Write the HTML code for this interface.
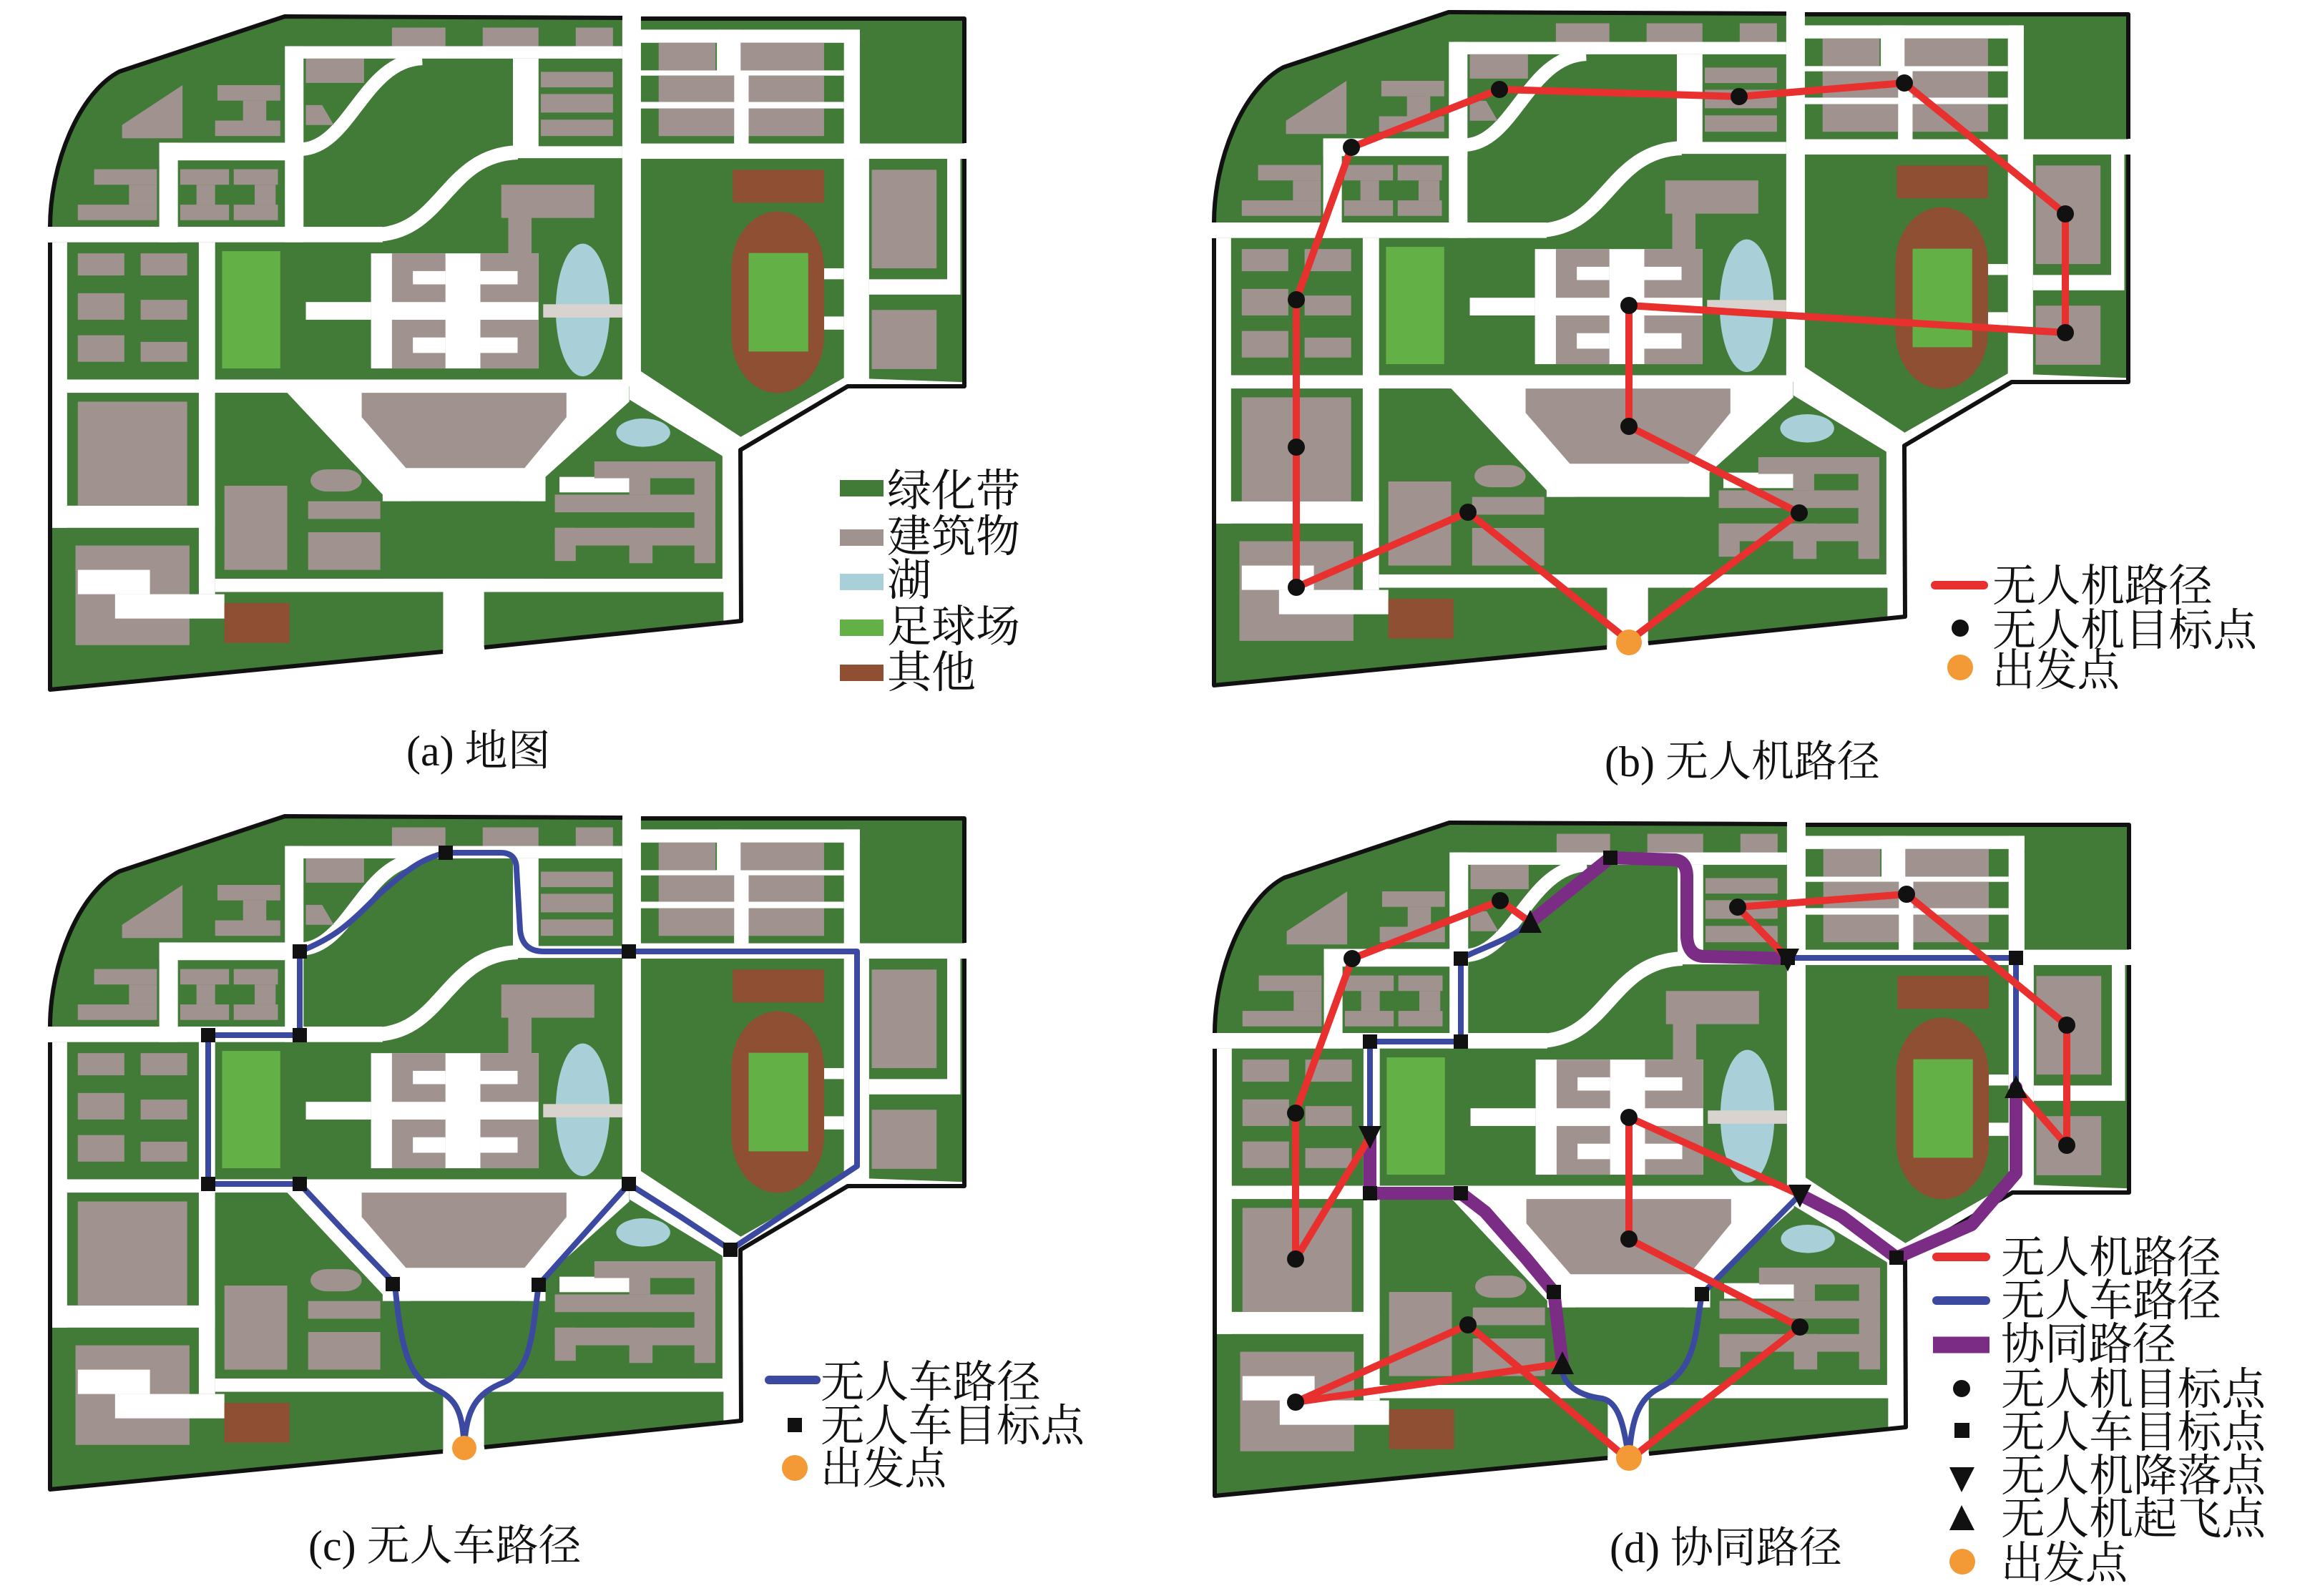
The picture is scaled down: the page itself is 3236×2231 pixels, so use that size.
<!DOCTYPE html>
<html><head><meta charset="utf-8"><style>
html,body{margin:0;padding:0;background:#fff;}
svg{display:block;}
text{font-family:"Liberation Serif","Noto Serif CJK SC",serif;fill:#111;}
</style></head><body>
<svg xmlns="http://www.w3.org/2000/svg" width="3236" height="2231" viewBox="0 0 3236 2231">
<defs>
<g id="map">
  <path d="M70,317 C70,230 110,130 167,100 L398,23 L1348,26 L1348,540 L1185,540 L1035,629 L1036,868 L677,905 L619,911 L70,964 Z" fill="#427a38"/>
  <!-- Z1 roads -->
  <g transform="translate(60,20) scale(0.6505,0.6188)" fill="#fff">
    <rect x="530" y="72" width="715" height="28"/>
    <rect x="520" y="72" width="40" height="443"/>
    <rect x="250" y="290" width="310" height="40"/>
    <rect x="250" y="290" width="40" height="225"/>
    <rect x="-10" y="480" width="740" height="35"/>
    <rect x="1245" y="-10" width="40" height="850"/>
    <rect x="0" y="825" width="1250" height="30"/>
    <rect x="15" y="515" width="37" height="645"/>
    <rect x="335" y="515" width="35" height="795"/>
    <rect x="15" y="1110" width="355" height="50"/>
    <rect x="370" y="1275" width="1130" height="30"/>
    <rect x="860" y="1275" width="88" height="290"/>
    <rect x="565" y="650" width="140" height="40"/>
    <rect x="705" y="540" width="360" height="260"/>
    <rect x="1010" y="100" width="55" height="200"/>
    <rect x="1000" y="298" width="245" height="27"/>
    <rect x="520" y="830" width="740" height="270"/>
    <rect x="1460" y="990" width="40" height="315"/>
    <path d="M555,305 C660,300 690,105 815,100" stroke="#fff" stroke-width="30" fill="none"/>
    <path d="M700,498 C860,505 860,318 1020,312" stroke="#fff" stroke-width="32" fill="none"/>
  </g>
  <!-- Z2 roads -->
  <g transform="translate(880,20) scale(0.370,0.6122)" fill="#fff">
    <rect x="35" y="35" width="835" height="30"/>
    <rect x="810" y="35" width="60" height="265"/>
    <rect x="0" y="295" width="1265" height="35"/>
    <rect x="330" y="35" width="90" height="100"/>
    <rect x="395" y="130" width="55" height="170"/>
    <rect x="35" y="128" width="775" height="12"/>
    <rect x="35" y="200" width="775" height="15"/>
    <rect x="735" y="580" width="75" height="25"/>
    <rect x="735" y="690" width="75" height="30"/>
    <rect x="810" y="330" width="95" height="520"/>
    <rect x="1200" y="330" width="50" height="310"/>
    <rect x="905" y="605" width="295" height="35"/>
    <polygon points="0,790 30,810 420,965 810,830 1265,840 1265,852 825,852 420,995 420,1400 355,1400 355,1010 0,880"/>
  </g>
  <!-- Z1 blocks and buildings -->
  <g transform="translate(60,20) scale(0.6505,0.6188)">
    <g fill="#427a38">
      <polygon points="370,855 525,855 730,1085 730,1275 370,1275"/>
      <rect x="790" y="1100" width="235" height="155"/>
      <polygon points="1080,1045 1260,875 1460,1000 1460,1275 1080,1275"/>
    </g>
    <rect x="1110" y="1045" width="150" height="35" fill="#fff"/>
    <g fill="#a0928f">
      <rect x="750" y="30" width="115" height="42"/><rect x="945" y="30" width="120" height="42"/><rect x="1145" y="30" width="80" height="42"/>
      <rect x="1070" y="130" width="155" height="35"/><rect x="1070" y="180" width="155" height="42"/><rect x="1070" y="238" width="155" height="37"/>
      <rect x="565" y="100" width="125" height="55"/>
      <polygon points="565,205 600,205 625,250 565,250"/>
      <polygon points="170,250 300,160 300,280 170,280"/>
      <rect x="375" y="160" width="135" height="35"/><rect x="430" y="195" width="50" height="45"/><rect x="370" y="240" width="140" height="35"/>
      <rect x="110" y="350" width="135" height="35"/><rect x="185" y="385" width="60" height="45"/><rect x="75" y="430" width="170" height="35"/>
      <rect x="295" y="350" width="105" height="35"/><rect x="330" y="385" width="40" height="45"/><rect x="295" y="430" width="105" height="35"/>
      <rect x="410" y="350" width="95" height="35"/><rect x="455" y="385" width="45" height="45"/><rect x="410" y="430" width="95" height="35"/>
      <rect x="75" y="540" width="100" height="50"/><rect x="210" y="540" width="100" height="50"/>
      <rect x="75" y="630" width="100" height="60"/><rect x="210" y="645" width="100" height="45"/>
      <rect x="75" y="725" width="100" height="60"/><rect x="210" y="740" width="100" height="45"/>
      <rect x="750" y="540" width="115" height="110"/><rect x="750" y="690" width="115" height="110"/>
      <rect x="940" y="540" width="125" height="110"/><rect x="940" y="690" width="125" height="110"/>
      <rect x="1000" y="455" width="50" height="90"/><rect x="985" y="385" width="200" height="75"/>
      <polygon points="685,855 1125,855 1125,910 1035,1025 780,1025 685,910"/>
      <rect x="75" y="875" width="235" height="235"/>
      <rect x="390" y="1065" width="135" height="190"/>
      <rect x="575" y="1028" width="110" height="50" rx="35"/>
      <rect x="570" y="1100" width="155" height="40"/><rect x="570" y="1170" width="155" height="85"/>
      <rect x="70" y="1200" width="245" height="225"/>
      <rect x="1185" y="1010" width="260" height="38"/><rect x="1400" y="1010" width="45" height="230"/>
      <rect x="1260" y="1045" width="45" height="40"/>
      <rect x="1100" y="1085" width="345" height="40"/><rect x="1100" y="1160" width="345" height="40"/>
      <rect x="1100" y="1160" width="45" height="75"/><rect x="1260" y="1160" width="50" height="80"/>
    </g>
    <g fill="#fff">
      <rect x="795" y="580" width="70" height="30"/><rect x="795" y="730" width="70" height="35"/>
      <rect x="940" y="580" width="80" height="30"/><rect x="940" y="730" width="80" height="35"/>
      <rect x="75" y="1255" width="155" height="55"/><rect x="155" y="1310" width="235" height="55"/>
    </g>
    <rect x="385" y="535" width="125" height="265" fill="#62b046"/>
    <ellipse cx="1160" cy="668" rx="58" ry="150" fill="#a9cfd8"/>
    <rect x="1075" y="655" width="170" height="30" fill="#d9d3d0"/>
    <ellipse cx="1290" cy="945" rx="58" ry="32" fill="#a9cfd8"/>
    <rect x="390" y="1330" width="140" height="90" fill="#8e4f33"/>
  </g>
  <!-- Z2 buildings -->
  <g transform="translate(880,20) scale(0.370,0.6122)">
    <g fill="#a0928f">
      <rect x="110" y="65" width="215" height="63"/><rect x="420" y="65" width="315" height="63"/>
      <rect x="110" y="140" width="285" height="60"/><rect x="450" y="140" width="285" height="60"/>
      <rect x="110" y="215" width="285" height="63"/><rect x="450" y="215" width="285" height="63"/>
      <rect x="915" y="355" width="245" height="225"/><rect x="915" y="675" width="245" height="135"/>
    </g>
    <rect x="390" y="355" width="345" height="75" fill="#8e4f33"/>
    <rect x="385" y="450" width="350" height="415" rx="175" ry="130" fill="#8e4f33"/>
    <rect x="450" y="545" width="225" height="225" fill="#62b046"/>
  </g>
  <g fill="none" stroke="#111" stroke-width="6" stroke-linejoin="round">
    <path d="M70,317 C70,230 110,130 167,100 L398,23 L870,25"/>
    <path d="M896,26 L1348,26 L1348,200"/>
    <path d="M1348,222 L1348,540 L1185,540 L1035,629 L1036,868 L677,905"/>
    <path d="M619,911 L70,964 L70,339"/>
  </g>
</g>
</defs>

<use href="#map"/>
<use href="#map" transform="translate(1627,-6)"/>
<use href="#map" transform="translate(0,1118)"/>
<use href="#map" transform="translate(1628,1127)"/>

<!-- Legend a -->
<rect x="1174" y="671" width="61" height="23" fill="#427a38"/>
<rect x="1174" y="740" width="61" height="23" fill="#a0928f"/>
<rect x="1174" y="802" width="61" height="23" fill="#a9cfd8"/>
<rect x="1174" y="866" width="61" height="23" fill="#62b046"/>
<rect x="1174" y="929" width="61" height="23" fill="#8e4f33"/>
<g font-size="62">
<text x="1240" y="707">绿化带</text>
<text x="1240" y="771">建筑物</text>
<text x="1240" y="832">湖</text>
<text x="1240" y="897">足球场</text>
<text x="1240" y="961">其他</text>
</g>

<!-- Panel b route -->
<polyline points="2277,896 2052,716 1812,821 1812,625 1812,419 1889,206 2096,125 2431,135 2662,116 2887,299 2887,465 2277,427 2277,596 2515,717 2277,896" fill="none" stroke="#e8312f" stroke-width="10" stroke-linejoin="round"/>
<g fill="#111">
<circle cx="2052" cy="716" r="12"/><circle cx="1812" cy="821" r="12"/><circle cx="1812" cy="625" r="12"/><circle cx="1812" cy="419" r="12"/><circle cx="1889" cy="206" r="12"/><circle cx="2096" cy="125" r="12"/><circle cx="2431" cy="135" r="12"/><circle cx="2662" cy="116" r="12"/><circle cx="2887" cy="299" r="12"/><circle cx="2887" cy="465" r="12"/><circle cx="2277" cy="427" r="12"/><circle cx="2277" cy="596" r="12"/><circle cx="2515" cy="717" r="12"/>
</g>
<circle cx="2277" cy="898" r="18" fill="#f39a36"/>
<line x1="2705" y1="818" x2="2773" y2="818" stroke="#e8312f" stroke-width="12" stroke-linecap="round"/>
<circle cx="2740" cy="878" r="12" fill="#111"/>
<circle cx="2740" cy="933" r="18" fill="#f39a36"/>
<g font-size="62">
<text x="2785" y="840" textLength="308" lengthAdjust="spacingAndGlyphs">无人机路径</text>
<text x="2785" y="902" textLength="370" lengthAdjust="spacingAndGlyphs">无人机目标点</text>
<text x="2785" y="958" textLength="178" lengthAdjust="spacingAndGlyphs">出发点</text>
</g>

<!-- Panel c route -->
<path d="M649,2022 C646,1975 640,1955 605,1940 C570,1925 560,1880 552,1795 L480,1720 L419,1655 L291,1655 L291,1447 L419,1447 L419,1330 C470,1310 490,1290 530,1250 C570,1215 590,1200 623,1192 L700,1192 Q722,1192 722,1215 L727,1300 Q730,1330 760,1330 L1198,1330 L1198,1630 L1021,1747 L950,1700 L879,1655 L753,1796 C745,1850 745,1915 705,1932 C665,1948 652,1970 649,2022" fill="none" stroke="#3b4aa0" stroke-width="8" stroke-linejoin="round"/>
<g fill="#111">
<rect x="613" y="1182" width="20" height="20"/><rect x="409" y="1320" width="20" height="20"/><rect x="409" y="1437" width="20" height="20"/><rect x="281" y="1437" width="20" height="20"/><rect x="281" y="1645" width="20" height="20"/><rect x="409" y="1645" width="20" height="20"/><rect x="869" y="1320" width="20" height="20"/><rect x="869" y="1645" width="20" height="20"/><rect x="1011" y="1737" width="20" height="20"/><rect x="539" y="1785" width="20" height="20"/><rect x="743" y="1786" width="20" height="20"/>
</g>
<circle cx="649" cy="2024" r="17" fill="#f39a36"/>
<line x1="1075" y1="1929" x2="1141" y2="1929" stroke="#3b4aa0" stroke-width="12" stroke-linecap="round"/>
<rect x="1101" y="1982" width="20" height="20" fill="#111"/>
<circle cx="1111" cy="2052" r="18" fill="#f39a36"/>
<g font-size="62">
<text x="1147" y="1953" textLength="308" lengthAdjust="spacingAndGlyphs">无人车路径</text>
<text x="1147" y="2014" textLength="369" lengthAdjust="spacingAndGlyphs">无人车目标点</text>
<text x="1147" y="2074" textLength="176" lengthAdjust="spacingAndGlyphs">出发点</text>
</g>

<!-- Panel d routes -->
<g fill="none" stroke-linejoin="round" stroke-linecap="round">
<path d="M2139,1289 L2251,1199 L2342,1202 Q2358,1204 2358,1226 L2358,1310 Q2360,1337 2383,1337 L2499,1340" stroke="#7b2d86" stroke-width="18"/>
<path d="M1915,1589 L1915,1668 L2042,1668 L2076,1694 L2134,1760 L2172,1806 L2184,1906" stroke="#7b2d86" stroke-width="18"/>
<path d="M2516,1670 L2574,1700 L2651,1758 L2756,1712 L2818,1640 L2818,1520" stroke="#7b2d86" stroke-width="18"/>
<path d="M2139,1289 C2110,1315 2070,1325 2042,1340 L2042,1456 L1915,1456 L1915,1589" stroke="#3b4aa0" stroke-width="8"/>
<path d="M2499,1339 L2818,1339 L2818,1520" stroke="#3b4aa0" stroke-width="8"/>
<path d="M2516,1670 L2379,1809 C2370,1860 2372,1915 2320,1940 C2290,1955 2280,1985 2277,2041" stroke="#3b4aa0" stroke-width="8"/>
<path d="M2184,1906 C2180,1930 2200,1950 2240,1955 C2262,1960 2270,1990 2277,2041" stroke="#3b4aa0" stroke-width="8"/>
<g stroke="#e8312f" stroke-width="10">
<polyline points="2139,1289 2097,1259 1890,1340 1811,1556 1811,1760 1915,1589"/>
<polyline points="2499,1340 2429,1268 2665,1250 2889,1433 2889,1601 2818,1520"/>
<polyline points="2516,1670 2277,1562 2277,1732 2516,1855 2277,2041 2052,1852 1811,1960 2184,1906"/>
</g>
</g>
<g fill="#111">
<circle cx="2097" cy="1259" r="12"/><circle cx="1890" cy="1340" r="12"/><circle cx="1811" cy="1556" r="12"/><circle cx="1811" cy="1760" r="12"/><circle cx="2429" cy="1268" r="12"/><circle cx="2665" cy="1250" r="12"/><circle cx="2889" cy="1433" r="12"/><circle cx="2889" cy="1601" r="12"/><circle cx="2277" cy="1562" r="12"/><circle cx="2277" cy="1732" r="12"/><circle cx="2052" cy="1852" r="12"/><circle cx="2516" cy="1855" r="12"/><circle cx="1811" cy="1960" r="12"/>
<rect x="2241" y="1189" width="20" height="20"/><rect x="2032" y="1330" width="20" height="20"/><rect x="2032" y="1446" width="20" height="20"/><rect x="1905" y="1446" width="20" height="20"/><rect x="1905" y="1658" width="20" height="20"/><rect x="2032" y="1658" width="20" height="20"/><rect x="2489" y="1329" width="20" height="20"/><rect x="2808" y="1329" width="20" height="20"/><rect x="2641" y="1748" width="20" height="20"/><rect x="2162" y="1796" width="20" height="20"/><rect x="2369" y="1799" width="20" height="20"/>
<polygon points="1899,1574 1931,1574 1915,1606"/>
<polygon points="2483,1326 2515,1326 2499,1358"/>
<polygon points="2500,1656 2532,1656 2516,1688"/>
<polygon points="2123,1304 2155,1304 2139,1272"/>
<polygon points="2802,1535 2834,1535 2818,1503"/>
<polygon points="2168,1921 2200,1921 2184,1889"/>
</g>
<circle cx="2277" cy="2038" r="18" fill="#f39a36"/>
<line x1="2707" y1="1757" x2="2776" y2="1757" stroke="#e8312f" stroke-width="12" stroke-linecap="round"/>
<line x1="2707" y1="1818" x2="2776" y2="1818" stroke="#3b4aa0" stroke-width="12" stroke-linecap="round"/>
<line x1="2702" y1="1880" x2="2781" y2="1880" stroke="#7b2d86" stroke-width="23"/>
<circle cx="2742" cy="1941" r="12" fill="#111"/>
<rect x="2732" y="1989" width="21" height="21" fill="#111"/>
<polygon points="2725,2051 2760,2051 2742,2086" fill="#111"/>
<polygon points="2725,2139 2760,2139 2742,2104" fill="#111"/>
<circle cx="2743" cy="2183" r="18" fill="#f39a36"/>
<g font-size="62">
<text x="2797" y="1779" textLength="308" lengthAdjust="spacingAndGlyphs">无人机路径</text>
<text x="2797" y="1839" textLength="308" lengthAdjust="spacingAndGlyphs">无人车路径</text>
<text x="2797" y="1900" textLength="245" lengthAdjust="spacingAndGlyphs">协同路径</text>
<text x="2797" y="1963" textLength="370" lengthAdjust="spacingAndGlyphs">无人机目标点</text>
<text x="2797" y="2023" textLength="370" lengthAdjust="spacingAndGlyphs">无人车目标点</text>
<text x="2797" y="2084" textLength="370" lengthAdjust="spacingAndGlyphs">无人机降落点</text>
<text x="2797" y="2144" textLength="370" lengthAdjust="spacingAndGlyphs">无人机起飞点</text>
<text x="2797" y="2206" textLength="177" lengthAdjust="spacingAndGlyphs">出发点</text>
</g>

<!-- Panel labels -->
<g font-size="60">
<text x="568" y="1070">(a) 地图</text>
<text x="2243" y="1085">(b) 无人机路径</text>
<text x="431" y="2181">(c) 无人车路径</text>
<text x="2250" y="2184">(d) 协同路径</text>
</g>
</svg>
</body></html>
